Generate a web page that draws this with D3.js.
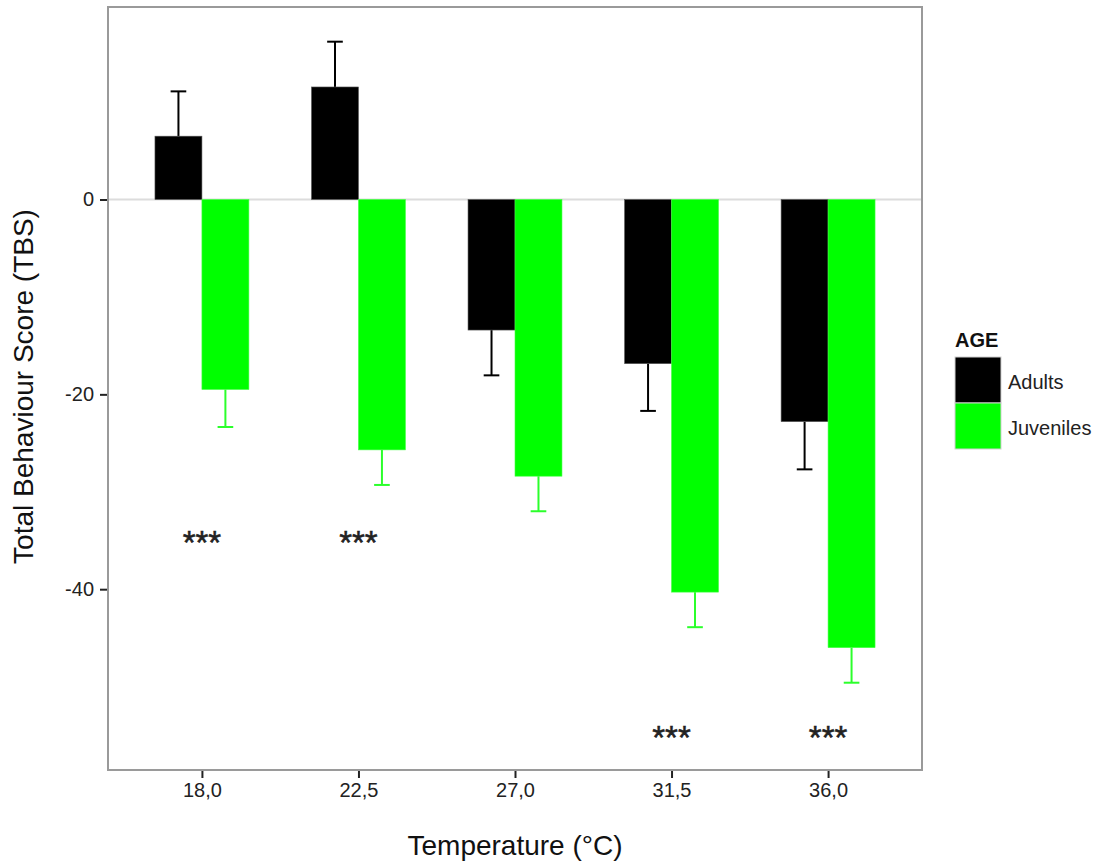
<!DOCTYPE html>
<html>
<head>
<meta charset="utf-8">
<script src="https://cdn.jsdelivr.net/npm/d3@7"></script>
<style>
  html, body { margin: 0; padding: 0; background: #ffffff; }
  svg { display: block; font-family: Arial, "Liberation Sans", sans-serif; }
</style>
</head>
<body>
<svg id="chart" width="1102" height="866"></svg>
<script>
// ---- data ----
const temperatures = ["18,0", "22,5", "27,0", "31,5", "36,0"];
const ageGroups = ["Adults", "Juveniles"];
const adultMeans = [6.5, 11.55, -13.4, -16.85, -22.8];
const adultSE = [4.6, 4.65, 4.65, 4.85, 4.9];
const juvenileMeans = [-19.5, -25.7, -28.4, -40.3, -46.0];
const juvenileSE = [3.85, 3.6, 3.6, 3.6, 3.6];
const starLabels = ["***", "***", "", "***", "***"];
const starValues = [-35, -35, null, -55, -55];
const yTicks = [0, -20, -40];
const yTickLabels = ["0", "-20", "-40"];
const groupColors = ["#000000", "#00ff00"];
const errorColors = ["#000000", "#2bff2b"];

// ---- layout ----
const svg = d3.select("#chart");
const panel = { left: 108, right: 922, top: 7, bottom: 770 };

const rows = [];
temperatures.forEach((t, i) => {
  rows.push({ temp: t, group: ageGroups[0], mean: adultMeans[i], se: adultSE[i], gi: 0 });
  rows.push({ temp: t, group: ageGroups[1], mean: juvenileMeans[i], se: juvenileSE[i], gi: 1 });
});

const errEnds = rows.map(d => d.mean >= 0 ? d.mean + d.se : d.mean - d.se);
const allVals = errEnds.concat(rows.map(d => d.mean), starValues.filter(v => v !== null), [0]);
const [lo, hi] = d3.extent(allVals);
const pad = (hi - lo) * 0.05;

const y = d3.scaleLinear().domain([lo - pad, hi + pad]).range([panel.bottom, panel.top]);
const x = d3.scalePoint().domain(temperatures).range([panel.left, panel.right]).padding(0.6);
const step = x.step();
const dodge = d3.scaleBand().domain(ageGroups).range([-0.3 * step, 0.3 * step]);

// zero reference line
svg.append("line")
  .attr("x1", panel.left).attr("x2", panel.right)
  .attr("y1", y(0)).attr("y2", y(0))
  .attr("stroke", "#dcdcdc").attr("stroke-width", 2);

// error bars (drawn outward from bar end)
const eb = svg.append("g");
rows.forEach(d => {
  const cx = x(d.temp) + dodge(d.group) + dodge.bandwidth() / 2;
  const end = d.mean >= 0 ? d.mean + d.se : d.mean - d.se;
  const col = errorColors[d.gi];
  eb.append("line").attr("x1", cx).attr("x2", cx)
    .attr("y1", y(d.mean)).attr("y2", y(end))
    .attr("stroke", col).attr("stroke-width", 2);
  const cw = 0.1 * step;
  eb.append("line").attr("x1", cx - cw / 2).attr("x2", cx + cw / 2)
    .attr("y1", y(end)).attr("y2", y(end))
    .attr("stroke", col).attr("stroke-width", 2);
});

// bars
svg.append("g").selectAll("rect").data(rows).join("rect")
  .attr("x", d => x(d.temp) + dodge(d.group))
  .attr("width", dodge.bandwidth())
  .attr("y", d => y(Math.max(0, d.mean)))
  .attr("height", d => Math.abs(y(d.mean) - y(0)))
  .attr("fill", d => groupColors[d.gi])
  .attr("stroke", d => d.gi === 0 ? "#555" : "#44ff44")
  .attr("stroke-width", 0.6);

// significance stars
svg.append("g").selectAll("text").data(temperatures.map((t, i) => ({ t, lab: starLabels[i], v: starValues[i] })).filter(d => d.v !== null))
  .join("text")
  .attr("x", d => x(d.t))
  .attr("y", d => y(d.v) + 13.5)
  .attr("text-anchor", "middle")
  .attr("font-size", 33)
  .attr("fill", "#222")
  .attr("stroke", "#222").attr("stroke-width", 0.5)
  .text(d => d.lab);

// panel border
svg.append("rect")
  .attr("x", panel.left).attr("y", panel.top)
  .attr("width", panel.right - panel.left).attr("height", panel.bottom - panel.top)
  .attr("fill", "none").attr("stroke", "#9a9a9a").attr("stroke-width", 2);

// y axis
const yAxis = svg.append("g")
  .attr("transform", `translate(${panel.left - 1},0)`)
  .call(d3.axisLeft(y).tickValues(yTicks).tickSize(7).tickPadding(6)
    .tickFormat((d, i) => yTickLabels[i]));
yAxis.select(".domain").remove();
yAxis.selectAll(".tick line").attr("stroke", "#222").attr("stroke-width", 2);
yAxis.selectAll(".tick text").attr("font-size", 20).attr("fill", "#222")
  .attr("font-family", "Arial, 'Liberation Sans', sans-serif");

// x axis
const xAxis = svg.append("g")
  .attr("transform", `translate(0,${panel.bottom + 1})`)
  .call(d3.axisBottom(x).tickSize(7).tickPadding(5));
xAxis.select(".domain").remove();
xAxis.selectAll(".tick line").attr("stroke", "#222").attr("stroke-width", 2);
xAxis.selectAll(".tick text").attr("font-size", 20).attr("fill", "#222")
  .attr("font-family", "Arial, 'Liberation Sans', sans-serif");

// axis titles
svg.append("text")
  .attr("x", (panel.left + panel.right) / 2).attr("y", 855)
  .attr("text-anchor", "middle").attr("font-size", 28).attr("fill", "#111")
  .text("Temperature (°C)");
svg.append("text")
  .attr("transform", `translate(33,${(panel.top + panel.bottom) / 2 - 2}) rotate(-90)`)
  .attr("text-anchor", "middle").attr("font-size", 28).attr("fill", "#111")
  .text("Total Behaviour Score (TBS)");

// legend
const lg = svg.append("g").attr("transform", "translate(955,0)");
lg.append("text").attr("x", 0).attr("y", 347)
  .attr("font-size", 20).attr("font-weight", "bold").attr("fill", "#111").text("AGE");
const keySize = 46;
ageGroups.forEach((g, i) => {
  const ky = 357 + i * keySize;
  lg.append("rect").attr("x", 0).attr("y", ky).attr("width", keySize).attr("height", keySize)
    .attr("fill", groupColors[i]).attr("stroke", "#d0d0d0").attr("stroke-width", 1);
  lg.append("text").attr("x", keySize + 7).attr("y", ky + keySize / 2 + 2)
    .attr("dy", "0.35em").attr("font-size", 20).attr("fill", "#222").text(g);
});
</script>
</body>
</html>
